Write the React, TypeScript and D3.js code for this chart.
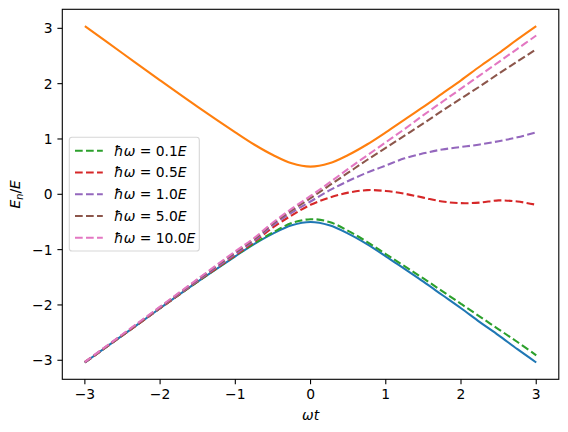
import React, { useEffect, useRef } from 'react';
import * as d3 from 'd3';

// omega*t sample points
const wt = [-3, -2.5, -2, -1.5, -1, -0.75, -0.5, -0.25, 0, 0.25, 0.5, 0.75, 1, 1.25, 1.5, 1.75, 2, 2.25, 2.5, 2.75, 3];

// adiabatic levels (solid)
const lowerLevel = [-3.04, -2.55, -2.06, -1.58, -1.12, -0.9, -0.71, -0.56, -0.5, -0.56, -0.71, -0.9, -1.12, -1.35, -1.58, -1.82, -2.06, -2.31, -2.55, -2.8, -3.04];
const upperLevel = [3.04, 2.55, 2.06, 1.58, 1.12, 0.9, 0.71, 0.56, 0.5, 0.56, 0.71, 0.9, 1.12, 1.35, 1.58, 1.82, 2.06, 2.31, 2.55, 2.8, 3.04];

// <E> for each driving rate (dashed)
const e01 = [-3.04, -2.55, -2.06, -1.58, -1.11, -0.89, -0.69, -0.52, -0.45, -0.5, -0.66, -0.86, -1.08, -1.3, -1.52, -1.75, -1.98, -2.21, -2.44, -2.67, -2.91];
const e05 = [-3.04, -2.55, -2.06, -1.57, -1.1, -0.86, -0.6, -0.38, -0.19, -0.06, 0.03, 0.075, 0.06, 0.01, -0.06, -0.13, -0.16, -0.15, -0.11, -0.13, -0.19];
const e10 = [-3.04, -2.54, -2.05, -1.56, -1.08, -0.84, -0.56, -0.33, -0.13, 0.07, 0.24, 0.39, 0.52, 0.65, 0.74, 0.81, 0.855, 0.9, 0.96, 1.03, 1.12];
const e50 = [-3.03, -2.54, -2.04, -1.54, -1.05, -0.81, -0.53, -0.29, -0.07, 0.16, 0.39, 0.62, 0.84, 1.06, 1.28, 1.51, 1.73, 1.95, 2.18, 2.4, 2.62];
const e100 = [-3.03, -2.53, -2.03, -1.53, -1.03, -0.79, -0.51, -0.26, -0.03, 0.21, 0.46, 0.7, 0.94, 1.18, 1.43, 1.67, 1.91, 2.15, 2.39, 2.63, 2.87];

const rateLabels = ['0.1', '0.5', '1.0', '5.0', '10.0'];
const rateColors = ['#2ca02c', '#d62728', '#9467bd', '#8c564b', '#e377c2'];
const rateSeries = [e01, e05, e10, e50, e100];

const xTicks = [-3, -2, -1, 0, 1, 2, 3];
const yTicks = [-3, -2, -1, 0, 1, 2, 3];

const W = 568;
const H = 432;
const FONT = 'DejaVu Sans, sans-serif';
const FS = 13.89;

const App = () => {
  const ref = useRef(null);

  useEffect(() => {
    const svg = d3.select(ref.current);
    svg.selectAll('*').remove();

    const left = 62.3, right = 558.8, top = 9.3, bottom = 379.3;

    const x = d3.scaleLinear().domain([-3.3, 3.3]).range([left, right]);
    const y = d3.scaleLinear().domain([-3.344, 3.344]).range([bottom, top]);

    svg.append('rect').attr('width', W).attr('height', H).attr('fill', 'white');

    const line = d3.line<number>()
      .x((d, i) => x(wt[i]))
      .y(d => y(d))
      .curve(d3.curveCatmullRom.alpha(0.5));

    const plot = svg.append('g');
    plot.append('path').datum(lowerLevel).attr('d', line)
      .attr('fill', 'none').attr('stroke', '#1f77b4').attr('stroke-width', 2.08);
    plot.append('path').datum(upperLevel).attr('d', line)
      .attr('fill', 'none').attr('stroke', '#ff7f0e').attr('stroke-width', 2.08);

    rateSeries.forEach((s, k) => {
      plot.append('path').datum(s).attr('d', line)
        .attr('fill', 'none').attr('stroke', rateColors[k]).attr('stroke-width', 2.08)
        .attr('stroke-dasharray', '7.7,3.3');
    });

    // spines
    svg.append('rect')
      .attr('x', left).attr('y', top)
      .attr('width', right - left).attr('height', bottom - top)
      .attr('fill', 'none').attr('stroke', 'black').attr('stroke-width', 1.1);

    // x axis
    const xa = svg.append('g').attr('font-family', FONT).attr('font-size', FS);
    xTicks.forEach(t => {
      xa.append('line').attr('x1', x(t)).attr('x2', x(t))
        .attr('y1', bottom).attr('y2', bottom + 4.9).attr('stroke', 'black').attr('stroke-width', 1.1);
      xa.append('text').attr('x', x(t)).attr('y', bottom + 20)
        .attr('text-anchor', 'middle').attr('fill', 'black')
        .text(t < 0 ? '\u2212' + Math.abs(t) : String(t));
    });

    // y axis
    const ya = svg.append('g').attr('font-family', FONT).attr('font-size', FS);
    yTicks.forEach(t => {
      ya.append('line').attr('x1', left - 4.9).attr('x2', left)
        .attr('y1', y(t)).attr('y2', y(t)).attr('stroke', 'black').attr('stroke-width', 1.1);
      ya.append('text').attr('x', left - 9.8).attr('y', y(t) + 5)
        .attr('text-anchor', 'end').attr('fill', 'black')
        .text(t < 0 ? '\u2212' + Math.abs(t) : String(t));
    });

    // axis labels
    const xl = svg.append('text').attr('x', (left + right) / 2).attr('y', 420)
      .attr('text-anchor', 'middle').attr('font-family', FONT).attr('font-size', FS)
      .attr('font-style', 'italic');
    xl.text('\u03c9t');

    const yl = svg.append('text')
      .attr('transform', `translate(20,${(top + bottom) / 2}) rotate(-90)`)
      .attr('text-anchor', 'middle').attr('font-family', FONT).attr('font-size', FS);
    yl.append('tspan').attr('font-style', 'italic').text('E');
    yl.append('tspan').attr('font-style', 'italic').attr('font-size', FS * 0.7).attr('dy', 2.5).text('n');
    yl.append('tspan').attr('dy', -2.5).text('/');
    yl.append('tspan').attr('font-style', 'italic').text('E');

    // legend
    const lg = svg.append('g');
    lg.append('rect')
      .attr('x', 69.3).attr('y', 137.3).attr('width', 130).attr('height', 113.7)
      .attr('rx', 2.8).attr('ry', 2.8)
      .attr('fill', 'white').attr('fill-opacity', 0.8)
      .attr('stroke', '#cccccc').attr('stroke-opacity', 0.8).attr('stroke-width', 1.1);

    rateLabels.forEach((lab, k) => {
      const cy = 150.7 + k * 21.75;
      lg.append('line').attr('x1', 75).attr('x2', 102.8).attr('y1', cy).attr('y2', cy)
        .attr('stroke', rateColors[k]).attr('stroke-width', 2.08).attr('stroke-dasharray', '7.7,3.3');
      const tx = lg.append('text').attr('x', 114).attr('y', cy + 5)
        .attr('font-family', FONT).attr('font-size', FS).attr('fill', 'black');
      tx.append('tspan').attr('font-style', 'italic').text('\u0127\u03c9');
      tx.append('tspan').text(' = ' + lab);
      tx.append('tspan').attr('font-style', 'italic').text('E');
    });
  }, []);

  return (
    <svg ref={ref} width={W} height={H} style={{ position: 'absolute', left: 0, top: 0 }} />
  );
};

export default App;
